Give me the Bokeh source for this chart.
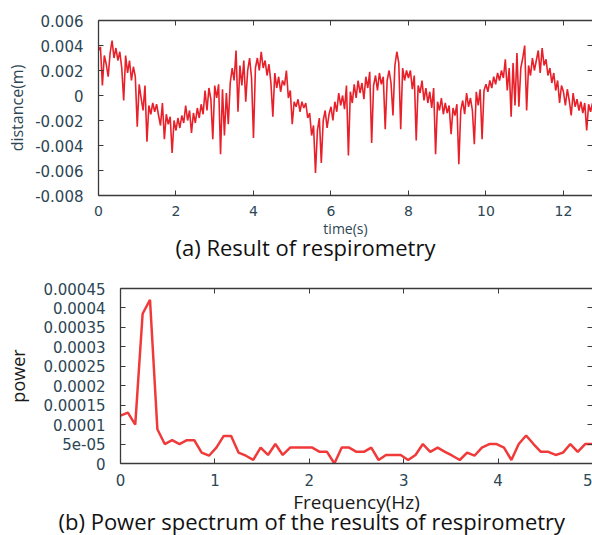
from bokeh.plotting import figure
from bokeh.models import LinearAxis, FixedTicker, CustomJSTickFormatter, Range1d, Title
from bokeh.embed import file_html
from bokeh.resources import INLINE

# ---------------- data ----------------
# (a) respirometry: distance in millimetres, one sample every 0.05 s
sample_interval_s = 0.05
distance_mm = [
    3.6, 3.9, 0.8, 3.2, 2.5, 1.5, 3.4, 4.4, 3.0, 3.8, 2.8, 3.5, 2.2, -0.4, 3.2, 1.8, 2.8, 1.2, 2.3, 1.5,
    -2.5, 0.9, -0.2, -1.2, 0.8, -3.7, -0.8, -1.5, -0.6, -1.3, -0.7, -1.6, -2.4, -0.6, -3.5, -1.5, -2.3, -1.7, -4.6, -2.0,
    -2.8, -1.8, -2.6, -1.6, -2.2, -0.8, -2.0, -1.2, -3.0, -1.4, -2.2, -1.0, -1.8, -0.7, -1.5, 0.4, -1.2, 0.6, -0.3, -3.5,
    0.8, -0.2, 0.9, -4.7, 0.5, -3.2, 0.2, -2.3, 1.0, 2.2, 1.2, 3.6, -1.3, 2.4, 0.8, 2.8, -0.5, 2.0, 3.0, 1.4,
    -3.4, 2.2, 3.0, 2.0, 3.5, 2.2, 2.8, 1.6, 2.5, 1.0, -1.7, 1.8, 0.6, 1.5, 0.3, 1.2, 0.8, 2.0, -0.2, 0.4,
    -2.3, -0.5, -0.9, -0.3, -1.3, -0.5, -1.0, -0.6, -1.8, -1.4, -3.2, -2.4, -6.2, -2.8, -1.8, -5.4, -2.0, -1.2, -2.6, -1.5,
    -0.9, -2.0, -0.5, -1.3, 0.2, -0.8, 0.0, -1.1, 0.8, -4.8, 0.3, -0.6, 0.9, -0.2, 1.2, 0.2, 1.0, -0.3, 1.5, 0.6,
    1.9, -3.8, 0.8, 1.6, 0.4, 1.8, 0.9, 1.5, -2.7, 1.2, 2.0, 1.0, -1.6, 2.4, 3.5, 2.6, -2.7, 2.2, 1.2, 2.0,
    1.4, 2.0, 0.5, 1.6, -3.6, 0.8, 0.2, 1.2, -0.4, 0.6, -0.6, 0.3, -1.0, 0.6, -4.7, -0.5, -1.2, -0.2, -1.5, -0.6,
    -1.4, -0.8, -3.1, -1.0, -1.6, -0.7, -5.5, -1.2, -0.4, -1.5, 0.2, -0.9, -0.2, -1.2, -3.9, 0.3, -0.8, 0.5, -3.5, 0.4,
    0.9, 0.3, 1.2, 0.6, 1.5, 0.9, 1.8, 1.2, 2.0, 1.4, 2.9, 0.4, 2.2, -1.7, 2.6, -0.8, 3.4, -0.9, 2.2, 3.0,
    4.0, -1.2, 2.4, 1.6, 3.0, 2.0, 2.8, 3.6, 1.8, 3.8, 2.4, 2.9, 1.6, 2.2, 1.0, 1.8, 0.4, 1.2, -0.6, 0.8,
    0.3, -0.8, 0.5, -0.4, -1.6, 0.2, -0.9, -0.3, -1.2, -0.5, -1.4, -0.6, -2.8, -0.7, -1.3, -0.6,
]
time_s = [i * sample_interval_s for i in range(len(distance_mm))]
distance_m = [v / 1000.0 for v in distance_mm]

# (b) power spectrum, bins of 1/12.8 Hz
freq_step_hz = 1 / 12.8
power = [
    0.000123, 0.000131, 0.000100, 0.000385, 0.000421, 0.000088, 0.000050, 0.000060, 0.000050, 0.000060,
    0.000060, 0.000028, 0.000020, 0.000041, 0.000071, 0.000071, 0.000028, 0.000020, 0.0000095, 0.000041,
    0.000022, 0.000050, 0.000022, 0.000041, 0.000041, 0.000041, 0.000041, 0.000030, 0.000030, 0.0,
    0.000041, 0.000041, 0.000030, 0.000030, 0.000041, 0.000009, 0.000022, 0.000022, 0.000022, 0.000009,
    0.000022, 0.000050, 0.000030, 0.000041, 0.000030, 0.000020, 0.000009, 0.000028, 0.000020, 0.000041,
    0.000050, 0.000050, 0.000041, 0.000009, 0.000050, 0.000072, 0.000050, 0.000030, 0.000030, 0.000022,
    0.000028, 0.000050, 0.000030, 0.000050, 0.000050,
]
frequency_hz = [k * freq_step_hz for k in range(len(power))]

time_ticks = [0, 2, 4, 6, 8, 10, 12]
distance_ticks = [-0.008, -0.006, -0.004, -0.002, 0, 0.002, 0.004, 0.006]
freq_ticks = [0, 1, 2, 3, 4, 5]
power_ticks = [0, 0.00005, 0.0001, 0.00015, 0.0002, 0.00025, 0.0003, 0.00035, 0.0004, 0.00045]

# ---------------- style ----------------
TICK_COLOR = "#2d4654"
AXIS_COLOR = "#3a3a3a"
fmt_code = """
const v = Number(tick.toPrecision(6));
if (v === 0) return "0";
if (Math.abs(v) < 1e-4) {
  const s = v.toExponential();
  return s.replace(/e-(\\d)$/, (m, d) => "e-0" + d);
}
return String(v);
"""


def style_main_axis(ax, ticks, size):
    ax.ticker = FixedTicker(ticks=ticks)
    ax.formatter = CustomJSTickFormatter(code=fmt_code)
    ax.major_tick_in = 5
    ax.major_tick_out = 0
    ax.minor_tick_line_color = None
    ax.major_tick_line_color = AXIS_COLOR
    ax.axis_line_color = AXIS_COLOR
    ax.axis_line_width = 1.3
    ax.major_label_text_font = "DejaVu Sans"
    ax.major_label_text_font_size = size
    ax.major_label_text_color = TICK_COLOR


def mirror_axis(p, ticks, loc, line):
    ax = LinearAxis(ticker=FixedTicker(ticks=ticks),
                    major_label_text_color=None, major_label_text_font_size="1px",
                    major_label_standoff=0,
                    major_tick_in=5, major_tick_out=0,
                    minor_tick_line_color=None, major_tick_line_color=AXIS_COLOR,
                    axis_line_color=AXIS_COLOR if line else None, axis_line_width=1.3)
    p.add_layout(ax, loc)


def label_style(ax, text, size, color, standoff):
    ax.axis_label = text
    ax.axis_label_text_font = "Open Sans"
    ax.axis_label_text_font_size = size
    ax.axis_label_text_font_style = "normal"
    ax.axis_label_text_color = color
    ax.axis_label_standoff = standoff


# ---------------- (a) ----------------
p1 = figure(width=592, height=264, x_range=Range1d(0, 12.75), y_range=Range1d(-0.008, 0.006),
            output_backend="svg", toolbar_location=None,
            min_border_left=98, min_border_right=0, min_border_top=20, min_border_bottom=69)
p1.outline_line_color = None
p1.grid.visible = False
p1.line(time_s, distance_m, line_color="#e8202a", line_width=1.6)
style_main_axis(p1.xaxis[0], time_ticks, "14px")
style_main_axis(p1.yaxis[0], distance_ticks, "15px")
p1.xaxis[0].major_label_standoff = 10
p1.yaxis[0].major_label_standoff = 15
label_style(p1.xaxis[0], "time(s)", "14px", TICK_COLOR, 0)
label_style(p1.yaxis[0], "distance(m)", "16px", TICK_COLOR, 4)
mirror_axis(p1, time_ticks, "above", True)
mirror_axis(p1, distance_ticks, "right", False)
p1.add_layout(Title(text="(a) Result of respirometry", align="left", offset=77,
                    text_font="Open Sans", text_font_size="22px", text_font_style="normal",
                    text_color="#111111", standoff=-21), "below")

# ---------------- (b) ----------------
p2 = figure(width=592, height=271, x_range=Range1d(0, 5), y_range=Range1d(0, 0.00045),
            output_backend="svg", toolbar_location=None,
            min_border_left=120, min_border_right=0, min_border_top=24, min_border_bottom=72)
p2.outline_line_color = None
p2.grid.visible = False
p2.line(frequency_hz, power, line_color="#f03a3a", line_width=2.5)
style_main_axis(p2.xaxis[0], freq_ticks, "15px")
style_main_axis(p2.yaxis[0], power_ticks, "15px")
p2.xaxis[0].major_label_standoff = 10
p2.yaxis[0].major_label_standoff = 15
label_style(p2.xaxis[0], "Frequency(Hz)", "19px", "#1a1a1a", 0)
label_style(p2.yaxis[0], "power", "18px", "#1a1a1a", 10)
mirror_axis(p2, freq_ticks, "above", True)
mirror_axis(p2, power_ticks, "right", False)
p2.add_layout(Title(text="(b) Power spectrum of the results of respirometry", align="left", offset=-62,
                    text_font="Open Sans", text_font_size="22px", text_font_style="normal",
                    text_color="#111111", standoff=-28), "below")

open("out.html", "w").write(file_html([p1, p2], INLINE))
